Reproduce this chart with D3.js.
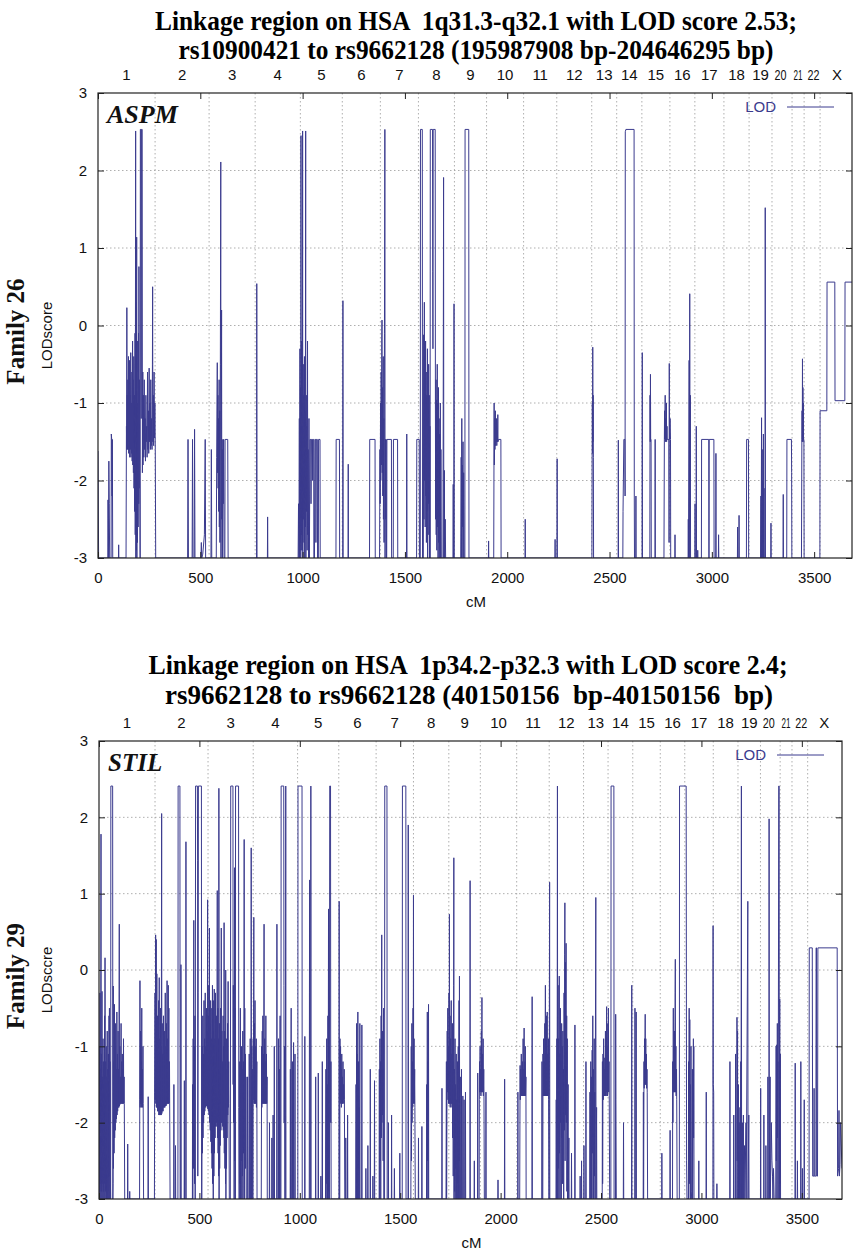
<!DOCTYPE html>
<html>
<head>
<meta charset="utf-8">
<script src="https://cdn.jsdelivr.net/npm/d3@7"></script>
<style>
  body { margin: 0; background: #fff; }
</style>
</head>
<body>
<div id="chart"></div>
<script>
// chromosome layout along the genome-wide map (cM)
var chromNames = ['1','2','3','4','5','6','7','8','9','10','11','12','13','14','15','16','17','18','19','20','21','22','X'];
var chromStart = [0, 279, 543, 768, 989, 1194, 1380, 1566, 1742, 1899, 2080, 2242, 2413, 2535, 2658, 2795, 2917, 3059, 3182, 3294, 3392, 3451, 3529];
var mapEnd = 3695;

var xTicks = [0, 500, 1000, 1500, 2000, 2500, 3000, 3500];
var yTicks = [-3, -2, -1, 0, 1, 2, 3];

// Family 26 (ASPM) - [cM, LOD]
var lod26 = [
  [0,-1.62],[3,-3],
  [48,-3],[49,-2.25],[51,-3],[53,-1.75],[55,-2.3],[57,-3],[64,-3],[65,-1.4],[67,-1.47],[69,-2.2],[70,-1.47],[72,-3],
  [100,-3],[101,-2.83],[102,-3],
  [137,-3],[139,-1.3],[140,-1.6],[141,0.23],[142,-1.55],[143,-0.9],[144,-1.6],[146,-0.7],[147,-1.5],[149,-0.4],[150,-1.65],[151,-0.85],[152,-1.6],[154,-0.45],[155,-1.7],[157,-0.9],[158,-1.6],[160,-0.35],[161,-1.7],[163,-1.0],[164,-1.65],[166,-0.6],[167,-1.75],[169,-0.2],[170,-1.8],[172,-0.7],[173,-1.9],[175,-0.4],[176,-2.1],[178,-0.9],[179,-2.4],[181,-0.1],[182,-2.7],[184,2.51],[185,-3],[187,0.3],[188,-2.9],[189,1.14],[190,-3],[192,-0.2],[193,-2.8],[195,-1.0],[196,-2.6],[198,-0.1],[199,-2.3],[200,0.76],[201,-2.1],[203,-0.7],[204,-1.9],[206,-3],[207,2.53],[210,2.53],[211,-1.2],[212,2.53],[216,2.53],[217,-1.9],[219,-0.6],[220,-1.8],[222,-0.9],[224,-1.7],[226,-0.7],[228,-1.6],[230,-1.2],[232,-1.75],[234,-0.9],[236,-1.5],[238,-1.3],[240,-1.7],[242,-0.6],[244,-1.6],[246,-1.1],[248,-1.65],[250,-0.55],[252,-1.5],[254,-1.0],[256,-1.6],[258,-0.7],[260,-1.55],[262,-1.2],[264,-1.6],[266,-0.5],[267,0.5],[268,-1.5],[270,-0.9],[272,-1.55],[274,-0.6],[276,-1.45],[278,-1.0],[280,-1.6],[282,-3],
  [438,-3],[440,-1.47],[442,-3],[460,-3],[462,-1.47],[464,-3],[470,-3],[472,-1.34],[474,-3],[503,-3],[505,-2.8],[507,-3],[512,-2.95],[520,-2.7],[524,-1.47],[526,-3],[552,-3],[554,-1.6],[556,-3],
  [578,-3],[580,-1.7],[583,-0.48],[584,-1.9],[586,-0.9],[587,-2.1],[589,-1.2],[590,-2.4],[592,-0.7],[593,-2.6],[595,-1.1],[596,-2.8],[598,-0.5],[600,2.11],[601,-3],[603,-1.0],[604,0.2],[605,-2.5],[607,-1.6],[608,-3],[610,-1.47],[612,-2.3],[614,-1.47],[616,-3],[620,-3],[621,-1.47],[634,-1.47],[636,-3],
  [775,-3],[776,0.54],[777,-3],[828,-3],[829,-2.47],[830,-3],
  [978,-3],[980,-2.3],[982,-3],[984,-1.2],[985,-3],[987,-0.3],[988,-2.8],[990,-0.8],[991,-3],[992,2.45],[993,-2.9],[995,-0.2],[996,-2.7],[998,-1.0],[999,-2.9],[1000,2.51],[1001,-3],[1003,-0.5],[1004,-2.5],[1006,-0.9],[1007,-2.8],[1009,-0.4],[1010,-3],[1012,-1.1],[1013,-2.6],[1015,2.51],[1016,-3],[1018,-0.9],[1019,-2.4],[1021,-1.3],[1022,-2.9],[1024,-0.2],[1025,-2.7],[1027,-1.6],[1029,-3],[1031,-1.2],[1033,-3],[1036,-1.47],[1040,-1.47],[1041,-2.3],[1043,-1.47],[1048,-1.47],[1049,-2.0],[1050,-1.47],[1054,-1.47],[1055,-3],[1058,-3],[1060,-1.47],[1064,-1.47],[1065,-2.8],[1067,-1.47],[1072,-1.47],[1073,-3],[1077,-3],[1078,-1.47],[1085,-1.47],[1086,-3],
  [1163,-3],[1164,-1.47],[1180,-1.47],[1181,-3],[1196,-3],[1197,0.32],[1198,-3],[1222,-3],[1223,-1.79],[1224,-3],
  [1327,-3],[1328,-1.47],[1354,-1.47],[1355,-3],
  [1376,-3],[1378,-1.6],[1379,-2.3],[1381,-1.0],[1382,-2.0],[1384,-0.6],[1385,-1.8],[1387,-0.2],[1388,0.07],[1389,-1.9],[1391,-0.8],[1392,-2.2],[1394,-0.4],[1395,-2.5],[1397,-1.2],[1398,-2.8],[1400,-0.1],[1402,2.53],[1403,-3],[1405,-1.47],[1406,-2.5],[1408,-1.47],[1410,-3],
  [1411,-3],[1412,-1.47],[1434,-1.47],[1435,-3],[1443,-3],[1444,-1.47],[1464,-1.47],[1465,-3],
  [1508,-3],[1509,-1.4],[1510,-3],
  [1557,-3],[1558,-1.47],[1570,-1.47],[1571,-3],[1575,-3],[1576,2.53],[1585,2.53],[1586,-3],
  [1590,-3],[1592,-0.12],[1593,-2.5],[1595,0.3],[1596,-2.0],[1598,-0.4],[1599,-2.6],[1601,-0.2],[1602,-2.2],[1604,-0.6],[1605,-2.8],[1607,-0.9],[1608,-2.4],[1610,-0.3],[1611,-3],[1613,-1.1],[1614,-2.3],[1616,-0.5],[1617,-2.7],[1619,-0.9],[1620,-3],[1622,-1.3],[1623,-3],[1624,2.53],[1635,2.53],[1636,0.7],[1637,-0.3],[1638,2.53],[1648,2.53],[1649,-1.0],[1650,-2.5],[1652,-0.7],[1653,-2.7],[1655,-0.96],[1656,-2.9],[1658,-0.5],[1659,-2.6],[1661,-1.0],[1662,-3],[1664,-0.8],[1665,-2.8],[1667,-1.2],[1668,-3],[1670,-1.4],[1671,-2.9],[1673,-1.0],[1674,-3],[1676,-1.6],[1678,-3],[1686,-3],[1689,1.91],[1690,-3],[1693,-1.87],[1694,-3],[1697,-2.5],[1699,-3],
  [1735,-3],[1736,-2.05],[1737,-3],[1739,-3],[1740,0.28],[1741,-3],
  [1773,-3],[1775,-1.7],[1776,-3],[1778,-1.2],[1779,-3],[1781,-1.8],[1782,-2.6],[1784,-1.5],[1785,-3],[1787,-1.9],[1789,-3],
  [1793,-3],[1794,2.53],[1812,2.53],[1813,-3],
  [1908,-3],[1909,-2.78],[1910,-3],
  [1934,-3],[1936,-1.0],[1937,-1.8],[1939,-1.2],[1940,-1.6],[1942,-1.1],[1943,-1.55],[1945,-1.3],[1946,-1.5],[1948,-1.2],[1949,-1.55],[1951,-1.35],[1952,-1.5],[1954,-1.15],[1955,-1.5],[1957,-1.47],[1969,-1.47],[1970,-3],
  [2087,-3],[2088,-2.5],[2089,-3],[2233,-3],[2234,-2.76],[2235,-3],[2243,-3],[2244,-1.72],[2245,-3],
  [2414,-3],[2415,-1.7],[2416,-1.0],[2417,-1.65],[2418,-0.28],[2419,-1.5],[2420,-0.9],[2421,-1.7],[2422,-3],
  [2542,-3],[2543,-1.48],[2544,-3],
  [2565,-3],[2566,-2.4],[2570,-1.47],[2575,-1.47],[2576,-2.2],[2577,2.5],[2580,2.53],[2620,2.53],[2621,-2.2],[2622,-3],
  [2628,-3],[2629,-2.2],[2630,-3],[2659,-3],[2660,-0.35],[2661,-3],
  [2697,-3],[2698,-0.9],[2699,-1.5],[2700,-0.63],[2701,-1.47],[2703,-1.47],[2704,-3],[2722,-3],[2723,-1.47],[2724,-3],
  [2766,-3],[2768,-1.47],[2769,-1.1],[2770,-1.47],[2772,-0.9],[2773,-1.5],[2775,-1.2],[2776,-1.45],[2778,-1.0],[2779,-1.5],[2781,-1.3],[2782,-1.47],[2790,-1.47],[2791,-2.8],[2792,-0.49],[2793,-1.47],[2796,-1.2],[2798,-1.47],[2799,-3],
  [2819,-3],[2820,-2.7],[2821,-3],
  [2884,-3],[2885,-2.5],[2886,-3],[2889,-0.45],[2890,-3],[2892,0.41],[2893,-2.0],[2895,-0.9],[2896,-3],
  [2917,-3],[2918,-2.3],[2919,-3],[2923,-3],[2924,-1.3],[2925,-3],[2930,-3],[2931,-2.9],[2932,-3],
  [2949,-3],[2950,-1.47],[2985,-1.47],[2986,-3],[2987,-1.47],[3010,-1.47],[3011,-3],
  [3019,-3],[3020,-1.65],[3021,-3],[3032,-3],[3033,-2.7],[3034,-3],
  [3125,-3],[3126,-2.6],[3127,-3],[3132,-3],[3133,-2.45],[3134,-3],
  [3169,-3],[3170,-1.47],[3179,-1.47],[3180,-3],
  [3238,-3],[3240,-2.2],[3241,-3],[3243,-1.19],[3244,-3],[3246,-1.6],[3247,-3],[3249,-2.0],[3250,-2.8],[3252,-1.4],[3253,-3],[3255,-2.1],[3256,-3],[3260,-3],[3261,1.52],[3262,-3],
  [3288,-3],[3289,-2.55],[3290,-3],[3348,-3],[3349,-2.18],[3350,-3],
  [3366,-3],[3367,-1.47],[3389,-1.47],[3390,-1.9],[3391,-3],
  [3438,-3],[3440,-1.47],[3441,-1.1],[3442,-1.5],[3443,-0.43],[3444,-1.47],[3445,-0.8],[3446,-1.5],[3447,-1.0],[3448,-1.47],[3450,-1.47],[3451,-3],
  [3528,-3],[3529,-1.1],[3562,-1.1],[3563,0.56],[3601,0.56],[3602,-0.97],[3650,-0.97],[3651,0.56],[3700,0.56]
];

// Family 29 (STIL) - [cM, LOD]
var lod29 = [
  [0,-3],[1,-1.2],[2,-3],[3,-1.0],[4,-2.9],[5,-0.3],[6,-3],[7,-1.3],[8,-2.8],[10,1.78],[11,-3],[12,-1.1],[13,-2.9],[15,-0.28],[16,-3],[17,-1.4],[18,-2.8],[20,-0.9],[21,-3],[22,-1.2],[23,-2.9],[25,-1.5],[26,-3],[28,-0.6],[29,-2.8],[30,0.16],[31,-3],[33,-1.2],[34,-2.9],[36,-1.0],[37,-3],[38,-1.4],[39,-2.8],[41,-0.8],[42,-3],[44,-1.3],[45,-2.9],[47,-1.1],[48,-3],[50,-0.6],[51,-2.7],[52,-0.5],[53,-3],[55,-1.2],[56,-2.6],[58,-3],[59,2.41],[68,2.41],[69,-3],
  [70,-2.8],[71,-0.21],[72,-2.6],[74,-1.2],[75,-2.4],[77,-0.45],[78,-2.2],[80,-1.0],[81,-2.1],[83,-0.7],[84,-2.0],[86,-1.3],[87,-1.95],[89,-0.55],[90,-1.9],[92,-1.1],[93,-1.85],[95,-0.8],[96,-1.8],[98,-1.3],[99,-1.8],[101,0.6],[102,-1.78],[104,-1.0],[105,-1.76],[107,-1.4],[108,-1.75],[110,-0.7],[111,-1.75],[113,-1.2],[114,-1.75],[116,-1.1],[117,-1.75],[119,-1.3],[120,-1.75],[122,-0.9],[123,-1.75],[125,-1.4],[126,-1.75],[128,-3],
  [142,-3],[143,-2.28],[144,-3],[152,-3],[153,-2.9],[154,-3],
  [202,-3],[203,-1.7],[204,-0.14],[205,-1.8],[207,-0.8],[208,-1.75],[210,-1.2],[211,-1.8],[213,-0.5],[214,-1.75],[216,-1.3],[217,-1.8],[219,-1.0],[220,-1.75],[222,-3],
  [244,-3],[245,-1.66],[246,-3],
  [276,-3],[277,-1.6],[279,-0.3],[280,-1.7],[282,0.46],[283,-1.75],[285,0.4],[286,-1.8],[288,-0.05],[289,-1.8],[291,-0.6],[292,-1.85],[294,-0.8],[295,-1.85],[297,-0.4],[298,-1.9],[300,-0.1],[301,-1.9],[303,-0.9],[304,-1.9],[306,-0.5],[307,-1.9],[309,-1.0],[310,-1.9],[312,2.05],[313,-1.88],[315,-0.7],[316,-1.85],[318,-1.1],[319,-1.85],[321,-0.6],[322,-1.8],[324,-1.2],[325,-1.8],[327,-0.8],[328,-1.8],[330,-0.3],[331,-1.78],[333,-1.0],[334,-1.78],[336,-0.7],[337,-1.76],[339,-0.14],[340,-1.75],[342,-0.9],[343,-1.75],[345,-0.2],[346,-1.75],[348,-0.5],[349,-1.75],[351,-1.2],[352,-1.75],[354,-3],
  [372,-3],[373,-1.5],[374,-3],[380,-3],[381,-2.3],[382,-3],[393,-3],[394,2.41],[403,2.41],[404,-3],[407,-3],[408,0.07],[409,-3],[424,-3],[425,-1.45],[426,-3],[432,-3],[433,1.68],[434,-3],
  [465,-3],[466,-1.5],[467,-3],[469,-0.9],[470,-2.6],[472,0.65],[473,-2.4],[475,-1.0],[476,-2.8],[478,-0.6],[479,-3],[481,2.41],[490,2.41],[491,1.43],[492,-2.7],[494,-0.3],[495,2.41],[510,2.41],[511,-3],
  [512,-3],[514,-1.0],[515,-2.4],[517,-0.6],[518,-2.2],[520,-1.1],[521,-2.0],[523,-0.4],[524,-1.9],[526,-0.9],[527,-1.85],[529,-0.3],[530,-1.8],[532,-1.0],[533,-1.78],[535,-0.5],[536,-1.78],[538,-0.8],[539,-1.8],[541,0.92],[542,-1.82],[544,-0.6],[545,-1.85],[547,-0.2],[548,-1.9],[550,0.55],[551,-2.0],[553,-0.7],[554,-2.1],[556,-0.4],[557,-2.25],[559,-0.9],[560,-2.4],[562,-0.5],[563,-2.6],[565,-0.2],[566,-2.8],[568,-0.8],[569,-3],[571,-0.4],[572,-2.7],[574,-0.25],[575,-2.4],[577,-0.9],[578,-2.2],[580,-0.3],[581,-2.05],[583,-1.0],[584,-2.0],[586,-0.6],[587,-2.05],[589,1.04],[590,-2.2],[592,-0.5],[593,-2.4],[595,-0.9],[596,-2.7],[597,2.38],[598,-3],[600,-0.7],[601,-2.6],[603,-1.1],[604,-2.3],[606,-0.5],[607,-2.1],[609,0.55],[610,-2.0],[612,-0.8],[613,-2.0],[615,-1.2],[616,-2.05],[618,-0.6],[619,-2.1],[621,-1.0],[622,-2.2],[623,0.62],[624,-2.4],[626,-0.8],[627,-2.6],[629,-1.2],[630,-2.8],[631,0.0],[632,-3],[634,-0.9],[635,-2.6],[637,-1.3],[638,-2.2],[640,-0.7],[641,-1.9],[643,-0.15],[644,-1.8],[646,-1.2],[647,-1.75],[649,-3],
  [654,-3],[656,2.41],[667,2.41],[668,-1.5],[669,-0.2],[670,-2.0],[672,-1.0],[673,-3],[675,1.34],[676,-2.5],[678,-0.5],[679,-3],[680,2.41],[695,2.41],[696,-1.8],[697,-3],
  [700,-3],[701,-1.2],[702,-2.8],[704,-0.5],[705,-3],[707,-1.6],[708,-2.5],[710,-1.0],[711,-3],[713,-1.3],[714,-2.7],[716,-0.8],[717,-3],[719,-1.2],[720,-2.4],[722,-0.5],[723,1.71],[724,-3],[726,-0.5],[727,-2.0],[729,-1.1],[730,-2.6],[732,-1.4],[733,-3],[738,-3],[740,-1.4],[741,-3],[747,-3],[748,-1.1],[749,-3],[752,-3],[753,-0.9],[754,-3],[757,-3],[758,1.6],[759,-3],[761,-1.0],[762,-3],[765,-1.3],[766,-3],[768,-0.9],[769,-1.7],[771,0.69],[772,-1.75],[774,-0.7],[775,-1.75],[777,-0.4],[778,-1.75],[780,-1.0],[781,-1.75],[783,-0.9],[784,-1.8],[786,-1.2],[787,-3],
  [808,-3],[810,-1.0],[811,-1.8],[813,-0.8],[814,-1.75],[816,-0.6],[817,-1.75],[819,-1.1],[820,-1.75],[822,0.6],[823,-1.75],[825,-0.9],[826,-1.75],[828,-1.2],[829,-1.75],[831,-0.6],[832,-1.75],[834,-1.1],[835,-1.75],[837,-1.4],[838,-3],
  [848,-3],[849,-2.0],[850,-3],[860,-3],[861,-2.2],[862,-3],[866,-3],[867,-1.9],[868,-3],[872,-3],[873,-1.0],[874,-3],[885,-3],[886,0.6],[887,-3],
  [893,-3],[894,-0.9],[895,-3],[898,-1.3],[899,-3],[902,-0.6],[903,-3],
  [906,-3],[907,2.41],[920,2.41],[921,-0.2],[922,-2.0],[924,-1.0],[925,-3],[928,-3],[930,2.41],[931,-3],
  [952,-3],[953,-1.3],[954,-3],[957,-0.5],[958,-3],[962,-3],[963,-1.2],[964,-3],[968,-3],[969,-0.95],[970,-3],[975,-3],[976,-1.1],[977,-3],
  [990,-3],[991,2.41],[1011,2.41],[1012,-3],[1024,-3],[1025,-0.87],[1026,-3],[1047,-3],[1048,-0.3],[1049,1.18],[1050,-3],[1054,-3],[1055,2.41],[1056,-3],
  [1078,-3],[1079,-1.4],[1080,-3],[1091,-3],[1092,-1.35],[1093,-3],[1104,-3],[1105,-2.7],[1106,-3],[1111,-3],[1112,-1.2],[1113,-3],
  [1128,-3],[1130,-1.3],[1131,-3],[1134,-0.9],[1135,-2.8],[1137,-1.5],[1138,-3],[1140,-0.6],[1141,-2.9],[1143,0.8],[1144,-3],[1146,-1.0],[1147,-3],[1149,2.41],[1153,2.41],[1154,-2.0],[1155,-1.2],[1156,-3],
  [1195,-3],[1196,0.9],[1197,-3],
  [1199,-3],[1200,-0.9],[1201,-1.7],[1203,-1.0],[1204,-1.75],[1206,-1.3],[1207,-1.8],[1209,-1.1],[1210,-1.75],[1212,-1.4],[1213,-1.75],[1215,-1.2],[1216,-1.7],[1218,-1.5],[1219,-1.75],[1221,-1.3],[1222,-1.7],[1224,-3],[1228,-3],[1229,-2.2],[1230,-3],
  [1237,-3],[1238,-1.9],[1239,-3],
  [1279,-3],[1280,-1.5],[1281,-3],[1283,-0.7],[1284,-3],[1286,-1.1],[1287,-3],[1289,-0.55],[1290,-2.6],[1292,-1.2],[1293,-3],[1295,-1.8],[1296,-3],[1299,-0.7],[1300,-3],[1308,-3],[1309,-0.72],[1310,-3],
  [1328,-3],[1329,-2.6],[1330,-3],[1338,-3],[1339,-2.3],[1340,-3],[1350,-3],[1351,-1.3],[1352,-3],[1363,-3],[1364,-2.7],[1365,-3],[1371,-3],[1372,-1.45],[1373,-3],
  [1395,-3],[1396,-1.3],[1397,-3],[1399,-0.9],[1400,-2.5],[1402,-1.2],[1403,-3],[1405,-0.6],[1406,-2.2],[1408,0.46],[1409,-2.0],[1411,-0.8],[1412,-1.9],[1414,-1.3],[1415,-2.5],[1417,-0.5],[1418,-3],[1422,-3],[1423,2.41],[1434,2.41],[1435,-3],
  [1440,-3],[1441,-2.0],[1442,-3],[1456,-3],[1457,-1.9],[1458,-3],[1470,-3],[1471,-2.6],[1472,-3],[1497,-3],[1498,-2.4],[1499,-3],
  [1510,-3],[1511,2.41],[1528,2.41],[1529,-3],[1539,-3],[1540,1.9],[1541,-3],
  [1553,-3],[1555,-1.0],[1556,-2.5],[1558,-0.7],[1559,-2.0],[1561,-1.2],[1562,-1.8],[1564,-0.5],[1565,-1.7],[1566,0.98],[1567,-1.75],[1569,-0.9],[1570,-1.75],[1572,-1.3],[1573,-1.8],[1575,-3],
  [1590,-3],[1591,-2.2],[1592,-3],[1607,-3],[1608,-2.05],[1609,-3],
  [1631,-3],[1632,-1.5],[1633,-3],[1635,-0.55],[1636,-2.5],[1638,-1.2],[1639,-3],[1641,-0.45],[1642,-3],
  [1707,-3],[1708,-1.55],[1709,-3],
  [1728,-3],[1730,-1.2],[1731,-3],[1734,-0.8],[1735,-1.6],[1737,-0.5],[1738,-1.7],[1740,-1.0],[1741,-1.75],[1743,-0.3],[1744,-1.75],[1745,0.73],[1746,-1.75],[1748,-0.6],[1749,-1.8],[1751,-0.9],[1752,-1.75],[1754,-0.4],[1755,-1.75],[1757,-1.1],[1758,-1.8],[1760,-0.7],[1761,-2.2],[1763,-1.2],[1764,-2.7],[1766,-0.2],[1767,1.47],[1768,-3],[1770,-1.3],[1771,-2.9],[1773,-0.9],[1774,-3],[1776,-1.5],[1777,-2.6],[1779,-1.1],[1780,-3],[1782,-1.7],[1783,-2.8],[1785,-1.2],[1786,-3],[1789,-1.0],[1790,-3],[1793,-0.4],[1794,-2.5],[1795,-0.08],[1796,-3],[1799,-1.4],[1800,-3],[1804,-3],[1805,-1.3],[1806,-3],[1811,-3],[1812,-1.65],[1813,-3],[1817,-3],[1818,-1.7],[1819,-3],[1824,-3],[1825,-1.6],[1826,-3],
  [1847,-3],[1848,1.17],[1849,-3],
  [1868,-3],[1869,-2.5],[1870,-3],[1885,-3],[1886,-1.35],[1887,-3],[1893,-3],[1894,-1.7],[1895,-1.2],[1896,-1.6],[1898,-1.0],[1899,-1.6],[1901,-1.3],[1902,-1.65],[1904,-0.8],[1905,-1.6],[1907,-0.36],[1908,-1.6],[1910,-1.1],[1911,-1.6],[1913,-0.9],[1914,-1.65],[1916,-1.3],[1917,-1.6],[1919,-3],[1926,-3],[1927,-1.6],[1928,-3],
  [1986,-3],[1987,-2.75],[1988,-3],[2019,-3],[2020,-1.43],[2021,-3],
  [2085,-3],[2086,-1.6],[2087,-3],[2095,-3],[2097,-1.25],[2098,-1.7],[2100,-1.3],[2101,-1.65],[2103,-1.1],[2104,-1.65],[2106,-1.4],[2107,-1.65],[2109,-1.2],[2110,-1.65],[2112,-0.9],[2113,-1.65],[2115,-1.3],[2116,-1.65],[2117,-0.76],[2118,-1.65],[2120,-1.2],[2121,-1.65],[2123,-1.0],[2124,-1.65],[2126,-1.4],[2127,-3],
  [2156,-3],[2157,-0.35],[2158,-3],
  [2205,-3],[2206,-1.2],[2207,-3],[2210,-3],[2211,-1.1],[2212,-1.65],[2214,-0.9],[2215,-1.65],[2217,-1.2],[2218,-1.65],[2220,-0.7],[2221,-1.65],[2223,-0.2],[2224,-1.65],[2226,-1.0],[2227,-1.65],[2229,-0.6],[2230,-1.65],[2232,-0.55],[2233,-1.65],[2235,-1.1],[2236,-1.65],[2238,-0.9],[2239,-1.7],[2241,-3],[2244,1.15],[2245,-3],
  [2276,-3],[2277,-1.7],[2278,-3],[2280,-0.9],[2281,-3],[2283,2.41],[2284,-3],[2286,-0.2],[2287,-2.6],[2289,-0.9],[2290,-3],[2292,-0.08],[2293,-2.4],[2295,-1.1],[2296,-3],[2298,-0.5],[2299,-2.0],[2301,-1.2],[2302,-3],[2304,-0.7],[2305,-2.2],[2307,-1.0],[2308,-2.8],[2310,-0.8],[2311,-2.0],[2313,-1.3],[2314,-3],[2316,-0.3],[2317,-2.1],[2319,0.2],[2320,0.88],[2321,-2.5],[2323,0.1],[2324,-1.9],[2326,0.35],[2327,-2.0],[2329,-0.6],[2330,-2.9],[2332,-0.9],[2333,-3],[2336,-1.5],[2337,-3],[2340,-2.2],[2341,-3],
  [2352,-3],[2353,-2.4],[2354,-3],[2369,-3],[2370,-0.72],[2371,-3],
  [2395,-3],[2396,-2.7],[2397,-3],[2402,-3],[2403,-2.5],[2404,-3],[2414,-3],[2415,-2.3],[2416,-3],[2424,-3],[2425,-1.2],[2426,-3],
  [2444,-3],[2445,-1.6],[2446,-3],[2449,-1.2],[2450,-3],[2452,-1.4],[2453,-3],[2456,-1.05],[2457,-2.4],[2459,-0.6],[2460,-3],[2462,-1.3],[2463,-3],[2466,-0.9],[2467,-2.7],[2469,-1.6],[2470,-3],[2474,0.95],[2475,-3],[2478,-1.8],[2479,-3],
  [2506,-3],[2507,-1.2],[2508,-2.8],[2510,-1.1],[2511,-1.7],[2513,-0.9],[2514,-1.65],[2516,-1.3],[2517,-1.65],[2519,-1.15],[2520,-1.65],[2522,-0.8],[2523,-1.65],[2525,-1.2],[2526,-1.6],[2528,-0.48],[2529,-1.65],[2531,-1.0],[2532,-1.65],[2534,-0.7],[2535,-1.6],[2537,-0.5],[2538,-1.6],[2540,-1.2],[2541,-1.65],[2543,-3],
  [2549,-3],[2550,2.41],[2564,2.41],[2565,-3],[2572,-3],[2573,-0.58],[2574,-1.7],[2576,-3],
  [2611,-3],[2612,-2.0],[2613,-3],[2652,-3],[2653,-0.2],[2654,-3],[2668,-3],[2669,-0.5],[2670,-3],[2674,-3],[2675,-0.55],[2676,-3],
  [2710,-3],[2711,-1.6],[2712,-3],[2714,-1.2],[2715,-1.55],[2717,-0.9],[2718,-1.5],[2720,-0.58],[2721,-1.5],[2723,-0.9],[2724,-1.5],[2726,-1.1],[2727,-1.55],[2729,-1.3],[2730,-1.6],[2732,-3],
  [2802,-3],[2803,-2.4],[2804,-3],[2843,-3],[2844,-2.1],[2845,-3],
  [2856,-3],[2857,-1.2],[2858,-2.0],[2860,-0.5],[2861,-1.6],[2863,-1.0],[2864,-1.6],[2866,-0.8],[2867,-1.6],[2869,-0.3],[2870,0.14],[2871,-1.6],[2873,-1.0],[2874,-1.65],[2876,-1.3],[2877,-1.7],[2879,-3],
  [2890,-3],[2891,2.41],[2924,2.41],[2925,0.17],[2926,-2.5],[2928,-3],
  [2935,-3],[2936,-1.2],[2937,-3],[2939,-0.5],[2940,-2.8],[2942,-0.65],[2943,-2.3],[2945,-1.5],[2946,-3],[2948,-1.0],[2949,-2.9],[2952,-3],[2955,-1.3],[2956,-3],[2960,-0.9],[2961,-2.2],[2962,-1.0],[2963,-3],
  [2986,-3],[2987,-2.5],[2988,-3],[3023,-3],[3024,-1.6],[3025,-3],[3057,-3],[3058,0.58],[3059,-1.5],[3061,-1.6],[3062,-3],[3076,-3],[3077,-2.8],[3078,-3],
  [3141,-3],[3142,-1.2],[3143,-3],[3160,-3],[3161,-1.9],[3162,-3],[3169,-3],[3170,-1.1],[3171,-3],[3176,-3],[3177,-0.62],[3178,-2.5],[3180,-0.8],[3181,-3],[3184,-1.5],[3185,-3],[3188,-2.0],[3189,-3],[3192,-1.8],[3193,-3],[3196,-1.2],[3197,-3],[3199,2.41],[3200,-3],[3204,-2.0],[3205,-3],[3209,-1.9],[3210,-3],[3215,-2.3],[3216,-3],[3222,-2.0],[3223,-3],[3231,0.9],[3232,-3],[3236,-1.9],[3237,-3],
  [3294,-3],[3295,-1.55],[3296,-3],[3310,-3],[3311,-1.9],[3312,-3],[3320,-3],[3321,-2.3],[3322,-3],[3330,-3],[3331,-1.4],[3332,-3],[3336,-3],[3337,1.98],[3338,-3],[3342,-1.4],[3343,-3],[3346,-2.4],[3348,-2.0],[3351,-2.5],[3354,-2.7],[3356,-3],[3359,-2.6],[3362,-3],[3370,-3],[3372,-1.0],[3373,-2.5],[3375,-0.98],[3376,-3],[3378,-0.7],[3379,-2.2],[3381,-1.2],[3382,-3],[3385,2.41],[3387,2.41],[3388,-3],[3390,-0.38],[3391,-2.8],[3393,-1.1],[3394,-3],
  [3466,-3],[3467,-1.22],[3468,-3],[3477,-3],[3478,-2.5],[3479,-3],[3494,-3],[3495,-1.2],[3496,-3],[3502,-3],[3503,-2.6],[3504,-3],[3511,-3],[3512,-1.7],[3513,-3],
  [3536,-3],[3537,0.29],[3552,0.29],[3554,-2.7],[3560,-2.7],[3561,-1.55],[3562,-2.7],[3570,-2.7],[3571,0.29],[3573,0.29],[3574,-2.7],[3578,-2.7],[3580,0.29],[3676,0.29],[3678,-2.7],[3683,-2.6],[3685,-1.84],[3687,-2.7],[3690,-2.55],[3692,-2.0],[3700,-2.6]
];

var lineColor = '#3b3b8e';

var svg = d3.select('#chart').append('svg')
    .attr('width', 853)
    .attr('height', 1250)
    .style('font-family', '"Liberation Sans", Arial, sans-serif');

var panels = [
  { id: 'p1', data: lod26, xMax: 3685, left: 98, right: 852, top: 93, bottom: 558,
    title: ['Linkage region on HSA  1q31.3-q32.1 with LOD score 2.53;',
            'rs10900421 to rs9662128 (195987908 bp-204646295 bp)'],
    titleX: [476, 476], titleW: [642, 595], titleY: [30, 59],
    family: 'Family 26', ylabel: 'LODscore', gene: 'ASPM', geneSize: 26 },
  { id: 'p2', data: lod29, xMax: 3700, left: 99, right: 842, top: 741, bottom: 1199,
    title: ['Linkage region on HSA  1p34.2-p32.3 with LOD score 2.4;',
            'rs9662128 to rs9662128 (40150156  bp-40150156  bp)'],
    titleX: [468, 469], titleW: [639, 608], titleY: [674, 704],
    family: 'Family 29', ylabel: 'LODsccre', gene: 'STIL', geneSize: 25 }
];

panels.forEach(drawPanel);

function drawPanel(p) {
  var x = d3.scaleLinear().domain([0, p.xMax]).range([p.left, p.right]);
  var y = d3.scaleLinear().domain([-3, 3]).range([p.bottom, p.top]);
  var g = svg.append('g');

  // titles
  p.title.forEach(function(t, i) {
    g.append('text')
      .attr('x', p.titleX[i])
      .attr('y', p.titleY[i])
      .attr('text-anchor', 'middle')
      .attr('font-family', '"Liberation Serif", "Times New Roman", serif')
      .attr('font-weight', 'bold')
      .attr('font-size', '27px')
      .attr('textLength', p.titleW[i])
      .attr('lengthAdjust', 'spacingAndGlyphs')
      .style('white-space', 'pre')
      .text(t);
  });

  // grid
  var grid = g.append('g')
      .attr('stroke', '#9a9a9a')
      .attr('stroke-width', 0.8)
      .attr('stroke-dasharray', '1.5,2.5');
  grid.selectAll('.hg').data(yTicks.filter(function(d) { return d > -3 && d < 3; }))
    .enter().append('line')
      .attr('x1', p.left).attr('x2', p.right)
      .attr('y1', function(d) { return y(d); })
      .attr('y2', function(d) { return y(d); });
  grid.selectAll('.vg').data(chromStart.slice(1))
    .enter().append('line')
      .attr('x1', function(d) { return x(d); })
      .attr('x2', function(d) { return x(d); })
      .attr('y1', p.top).attr('y2', p.bottom);

  // LOD trace
  g.append('clipPath').attr('id', 'clip-' + p.id)
    .append('rect')
      .attr('x', p.left).attr('y', p.top)
      .attr('width', p.right - p.left).attr('height', p.bottom - p.top);

  var line = d3.line()
      .x(function(d) { return x(d[0]); })
      .y(function(d) { return y(d[1]); });

  g.append('path')
    .datum(p.data)
    .attr('clip-path', 'url(#clip-' + p.id + ')')
    .attr('fill', 'none')
    .attr('stroke', lineColor)
    .attr('stroke-width', 1)
    .attr('stroke-linejoin', 'round')
    .attr('d', line);

  // axes (plain integer labels, hyphen minus like the original)
  var plain = function(d) { return String(d); };
  var xb = g.append('g')
      .attr('transform', 'translate(0,' + p.bottom + ')')
      .call(d3.axisBottom(x).tickValues(xTicks).tickFormat(plain).tickSize(-6).tickPadding(14).tickSizeOuter(0));
  var xt = g.append('g')
      .attr('transform', 'translate(0,' + p.top + ')')
      .call(d3.axisTop(x).tickValues(xTicks).tickSize(-6).tickFormat('').tickSizeOuter(0));
  var yl = g.append('g')
      .attr('transform', 'translate(' + p.left + ',0)')
      .call(d3.axisLeft(y).tickValues(yTicks).tickFormat(plain).tickSize(-6).tickPadding(11).tickSizeOuter(0));
  var yr = g.append('g')
      .attr('transform', 'translate(' + p.right + ',0)')
      .call(d3.axisRight(y).tickValues(yTicks).tickSize(-6).tickFormat('').tickSizeOuter(0));

  [xb, xt, yl, yr].forEach(function(a) {
    a.select('.domain').remove();
    a.selectAll('.tick line').attr('stroke', '#222');
    a.selectAll('.tick text')
      .attr('font-family', '"Liberation Sans", Arial, sans-serif')
      .attr('font-size', '15px')
      .attr('fill', '#111');
  });

  // frame
  g.append('rect')
    .attr('x', p.left).attr('y', p.top)
    .attr('width', p.right - p.left).attr('height', p.bottom - p.top)
    .attr('fill', 'none')
    .attr('stroke', '#222')
    .attr('stroke-width', 1.2);

  // chromosome labels along the top (the tight 20/21/22 ones squeezed)
  var squeeze = { '20': [-1.5, 12], '21': [0, 9], '22': [1.5, 12] };
  g.selectAll('.chr').data(chromNames)
    .enter().append('text')
      .attr('x', function(d, i) {
        var end = i + 1 < chromStart.length ? chromStart[i + 1] : mapEnd;
        return x((chromStart[i] + end) / 2) + (squeeze[d] ? squeeze[d][0] : 0);
      })
      .attr('y', p.top - 13)
      .attr('text-anchor', 'middle')
      .attr('font-size', function(d) { return squeeze[d] ? '14px' : '15px'; })
      .attr('fill', '#111')
      .each(function(d) {
        if (squeeze[d]) {
          d3.select(this)
            .attr('textLength', squeeze[d][1])
            .attr('lengthAdjust', 'spacingAndGlyphs');
        }
      })
      .text(function(d) { return d; });

  // x label
  g.append('text')
    .attr('x', (p.left + p.right) / 2 + 1)
    .attr('y', p.bottom + 49)
    .attr('text-anchor', 'middle')
    .attr('font-size', '15px')
    .attr('fill', '#111')
    .text('cM');

  // y label and family label
  var midY = (p.top + p.bottom) / 2 + 10;
  g.append('text')
    .attr('transform', 'translate(52,' + midY + ') rotate(-90)')
    .attr('text-anchor', 'middle')
    .attr('font-size', '15px')
    .attr('fill', '#111')
    .text(p.ylabel);
  g.append('text')
    .attr('transform', 'translate(24,' + (midY - 4) + ') rotate(-90)')
    .attr('text-anchor', 'middle')
    .attr('font-family', '"Liberation Serif", "Times New Roman", serif')
    .attr('font-weight', 'bold')
    .attr('font-size', '25px')
    .attr('fill', '#111')
    .text(p.family);

  // gene name
  g.append('text')
    .attr('x', p.left + 9)
    .attr('y', p.top + 30)
    .attr('font-family', '"Liberation Serif", "Times New Roman", serif')
    .attr('font-weight', 'bold')
    .attr('font-style', 'italic')
    .attr('font-size', p.geneSize + 'px')
    .attr('fill', '#111')
    .text(p.gene);

  // legend
  g.append('text')
    .attr('x', p.right - 76)
    .attr('y', p.top + 19)
    .attr('text-anchor', 'end')
    .attr('font-size', '15px')
    .attr('fill', lineColor)
    .text('LOD');
  g.append('line')
    .attr('x1', p.right - 65).attr('x2', p.right - 18)
    .attr('y1', p.top + 14).attr('y2', p.top + 14)
    .attr('stroke', lineColor)
    .attr('stroke-width', 1);
}
</script>
</body>
</html>
